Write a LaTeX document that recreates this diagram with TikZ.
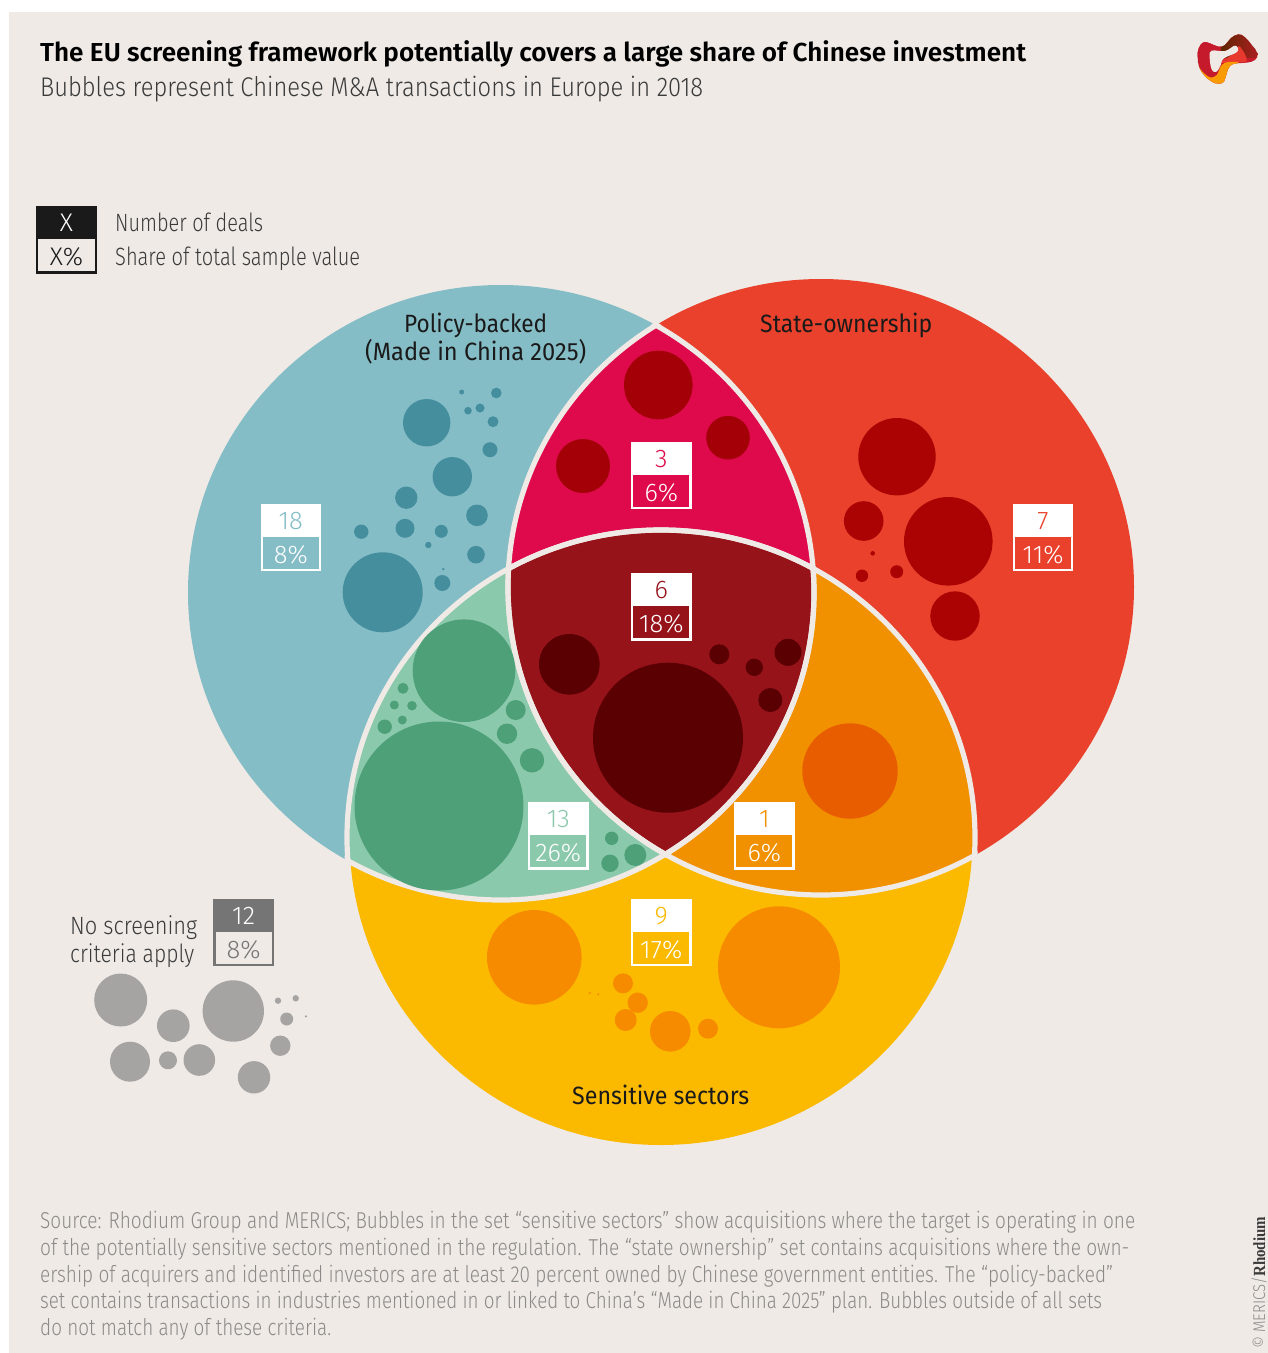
\documentclass[tikz,border=0pt]{standalone}
\usepackage{graphicx}
\usepackage{fontspec}
\setmainfont{Fira Sans Light}[BoldFont={Fira Sans SemiBold}]
\newfontfamily\regfont{Fira Sans}
\newfontfamily\rhofont{Liberation Serif}
\definecolor{bgc}{HTML}{EFEAE6}
\definecolor{cblue}{HTML}{85BDC7}\definecolor{dblue}{HTML}{458E9E}
\definecolor{cred}{HTML}{E9412B}\definecolor{dred}{HTML}{AB0303}
\definecolor{ccrim}{HTML}{DE0A4B}\definecolor{dcrim}{HTML}{A30008}
\definecolor{ctrip}{HTML}{96131A}\definecolor{dtrip}{HTML}{5A0003}
\definecolor{cgreen}{HTML}{8BC9AC}\definecolor{dgreen}{HTML}{4DA078}
\definecolor{corange}{HTML}{F29100}\definecolor{dorange}{HTML}{E85D00}
\definecolor{cyellow}{HTML}{FBBA00}\definecolor{dyellow}{HTML}{F78B00}
\definecolor{cgrey}{HTML}{A6A4A2}\definecolor{dgrey}{HTML}{757575}
\definecolor{cblack}{HTML}{1A1A1A}\definecolor{ctext}{HTML}{3A3A3A}\definecolor{csrc}{HTML}{8C8A88}
\definecolor{lgred}{HTML}{C41A2C}\definecolor{lgorange}{HTML}{F99B05}\definecolor{lgbrown}{HTML}{5C2600}\definecolor{lgmid}{HTML}{B01E24}\definecolor{lglight}{HTML}{E8392F}
\newcommand\fw[2]{\resizebox{#1pt}{\height}{#2}}
\newcommand\circB{(501,592.5) ellipse [x radius=313pt,y radius=307.5pt]}
\newcommand\circR{(821,587) ellipse [x radius=313pt,y radius=308pt]}
\newcommand\circY{(661,837.5) ellipse [x radius=314pt,y radius=307.5pt]}
\newcommand\clipB{(501,592.5) ellipse [x radius=316pt,y radius=310.5pt]}
\newcommand\clipR{(821,587) ellipse [x radius=316pt,y radius=311pt]}
\newcommand\clipY{(661,837.5) ellipse [x radius=317pt,y radius=310.5pt]}
\newcommand\bubs[2]{\foreach \bx/\by/\br in {#2} {\fill[#1] (\bx,\by) circle [radius=\br pt];}}
% name, x, y, number, percent, colour
\newcommand\statbox[6]{%
  \fill[white] (#2,#3) rectangle ++(60.6,67.3);
  \fill[#6] (#2+2.3,#3+32.7) rectangle ++(56,32.3);
  \node[numlab,text=#6] (n#1) at (#2+30.3,#3+25.5) {#4};
  \node[numlab,text=white] (p#1) at (#2+30.3,#3+59.5) {#5};}
\tikzset{
  numlab/.style={anchor=base,inner sep=0pt,font=\fontsize{25.5}{25.5}\selectfont},
  txt/.style={anchor=base west,inner sep=0pt},
  setlab/.style={anchor=base west,inner sep=0pt,text=cblack,font=\regfont\fontsize{25}{25}\selectfont},
  leglab/.style={anchor=base west,inner sep=0pt,text=ctext,font=\fontsize{25}{25}\selectfont},
  srclab/.style={anchor=base west,inner sep=0pt,text=csrc,font=\fontsize{23}{23}\selectfont},
  sepline/.style={draw=bgc,line width=5.2pt}
}
\begin{document}
\begin{tikzpicture}[x=1pt,y=-1pt]
\useasboundingbox (0,0) rectangle (1268,1353);
\fill[white] (0,0) rectangle (1268,1353);
\fill[bgc] (9,12) rectangle (1268,1353);
% sets
\fill[cblue] \circB;
\fill[cred] \circR;
\fill[cyellow] (661,837.5) ellipse [x radius=311.5pt,y radius=307.5pt];
\begin{scope}\clip \circB; \fill[ccrim] \circR; \end{scope}
\begin{scope}\clip \circB; \fill[cgreen] \circY; \end{scope}
\begin{scope}\clip \circR; \fill[corange] \circY; \end{scope}
\begin{scope}\clip \circB; \clip \circR; \fill[ctrip] \circY; \end{scope}
% separators
\begin{scope}\clip \clipR; \draw[sepline] \circB; \draw[sepline] \circY; \end{scope}
\begin{scope}\clip \clipB; \draw[sepline] \circR; \draw[sepline] \circY; \end{scope}
\begin{scope}\clip \clipY; \draw[sepline] \circB; \draw[sepline] \circR; \end{scope}
% bubbles
\bubs{dblue}{426.7/422.7/23.7,452.3/476.7/19.7,406.3/497.7/11.2,405/528.3/9.5,477/515.3/10.8,476/554.7/8.8,441.3/531.3/6.5,361.3/531.7/7.2,428.3/545/3.2,382.7/592.3/40,442.3/583/8,443.3/569/1.3,496.3/393/5.3,461.7/392/2.5,480/408/4.5,468/410.7/3.8,493/421.7/5.5,490/449.7/7.5}
\bubs{dcrim}{658.3/385/34.3,728/437.7/21.8,583/466/27}
\bubs{dred}{897/456.7/38.7,863.7/521/19.8,948.3/541.3/44.3,955/616/24.7,896.7/571.7/6.5,862/575.7/6.2,872.7/553.3/2.3}
\bubs{dgreen}{464/670.7/51.3,439/806/84.5,515.7/710/10,507/733.7/10.2,532/760.3/12.2,403/688.3/5.5,394.3/705/4.5,412/705.7/4.8,402.3/720/4.5,384.7/726.7/7.2,611.7/838.3/6.7,635.3/855/11,610/863.3/8.7}
\bubs{dtrip}{569.3/664.3/30.3,668/737.7/75,719.3/654.3/10,754.3/667.3/8.7,788/652.3/13.5,770.3/700/12}
\bubs{dorange}{850/771/47.7}
\bubs{dyellow}{534.3/957.3/47.3,779/967.3/61,623/983.3/10,637.7/1002.7/10.2,625.7/1020/11,670.3/1031.3/20.3,708/1028.7/10,589.7/993/1.2,598.3/994.3/1.2}
\bubs{cgrey}{120.7/1000/26.5,173.3/1025.7/16.3,233.3/1011/30.7,130/1061.7/20,168/1060.3/9,199.3/1060/15.8,254/1077.3/16.2,280.3/1045.7/10.2,286.7/1019/6.5,278/1000.7/3.2,295.7/998.3/3.2,306/1016.3/1.3}
% stat boxes
\statbox{a}{631}{442}{3}{6\%}{ccrim}
\statbox{b}{631}{573.3}{6}{18\%}{ctrip}
\statbox{c}{1012.7}{504}{7}{11\%}{cred}
\statbox{d}{260.5}{504}{18}{8\%}{cblue}
\statbox{e}{528}{802.3}{13}{26\%}{cgreen}
\statbox{f}{734}{802.3}{1}{6\%}{corange}
\statbox{g}{631}{899}{9}{17\%}{cyellow}
% grey box
\fill[dgrey] (213.3,899) rectangle ++(60.6,67.3);
\fill[bgc] (215.6,931.7) rectangle ++(56,32.3);
\node[numlab,text=white] (nh) at (243.6,924.5) {12};
\node[numlab,text=dgrey] (ph) at (243.6,958) {8\%};
% legend box
\fill[cblack] (36,206) rectangle ++(61,67.7);
\fill[bgc] (38.3,238.7) rectangle ++(56.4,32.7);
\node[numlab,text=white] (nl) at (66.5,231.5) {X};
\node[numlab,text=cblack] (pl) at (66.5,265) {X\%};
% titles
\node[txt,text=black] (title) at (40,61) {\fw{986}{\fontsize{26}{26}\selectfont\bfseries The EU screening framework potentially covers a large share of Chinese investment}};
\node[txt,text=ctext] (sub) at (40,96.5) {\fw{663}{\fontsize{27}{27}\selectfont Bubbles represent Chinese M\&A transactions in Europe in 2018}};
% legend text
\node[leglab] (l1) at (115,231) {\fw{148}{Number of deals}};
\node[leglab] (l2) at (115,265) {\fw{245}{Share of total sample value}};
% set labels
\node[setlab] (s1) at (404,332) {\fw{143}{Policy-backed}};
\node[setlab] (s2) at (365,360.5) {\fw{221}{(Made in China 2025)}};
\node[setlab] (s3) at (760,332) {\fw{172}{State-ownership}};
\node[setlab] (s4) at (572,1104) {\fw{177}{Sensitive sectors}};
\node[leglab] (o1) at (70,934) {\fw{127}{No screening}};
\node[leglab] (o2) at (70,962) {\fw{124}{criteria apply}};
% source
\node[srclab] (c1) at (40,1228) {\fw{1095}{Source: Rhodium Group and MERICS; Bubbles in the set “sensitive sectors” show acquisitions where the target is operating in one}};
\node[srclab] (c2) at (40,1255) {\fw{1089}{of the potentially sensitive sectors mentioned in the regulation. The “state ownership” set contains acquisitions where the own-}};
\node[srclab] (c3) at (40,1282) {\fw{1073}{ership of acquirers and identified investors are at least 20 percent owned by Chinese government entities. The “policy-backed”}};
\node[srclab] (c4) at (40,1308) {\fw{1062}{set contains transactions in industries mentioned in or linked to China’s “Made in China 2025” plan. Bubbles outside of all sets}};
\node[srclab] (c5) at (40,1335) {\fw{291}{do not match any of these criteria.}};
\node[anchor=base west,inner sep=0pt,rotate=90,text=csrc] (copy) at (1265,1349) {\fw{132}{\fontsize{17}{17}\selectfont © MERICS/{\rhofont\bfseries\color{ctext}Rhodium}}};
% logo
\begin{scope}[shift={(1100,0)},scale=1/3]
\begin{scope}
\clip plot[smooth cycle,tension=0.7] coordinates {(293,170) (296,145) (310,127) (330,130) (355,140) (375,135) (392,115) (415,103) (435,112) (455,135) (472,160) (465,180) (440,188) (410,190) (390,198) (380,220) (372,245) (355,251) (335,245) (312,225) (297,200)};
\fill[lgred] (280,90) rectangle (480,260);
\shade[left color=lgbrown,right color=lgmid] (360,95) rectangle (480,172);
\fill[lgred] (285,90) rectangle (362,170);
\fill[lglight] plot[smooth cycle,tension=0.7] coordinates {(362,188) (390,168) (408,150) (420,140) (440,183) (400,186)};
\fill[lgorange] plot[smooth,tension=0.6] coordinates {(288,185) (305,212) (330,232) (350,225) (365,195) (385,186) (415,186)} -- (400,270) -- (285,270) -- cycle;
\end{scope}
\fill[bgc] plot[smooth cycle,tension=0.7] coordinates {(329,170) (335,152) (375,153) (405,137) (412,155) (372,175) (362,195) (350,215) (335,208)};
\end{scope}
\end{tikzpicture}
\end{document}
